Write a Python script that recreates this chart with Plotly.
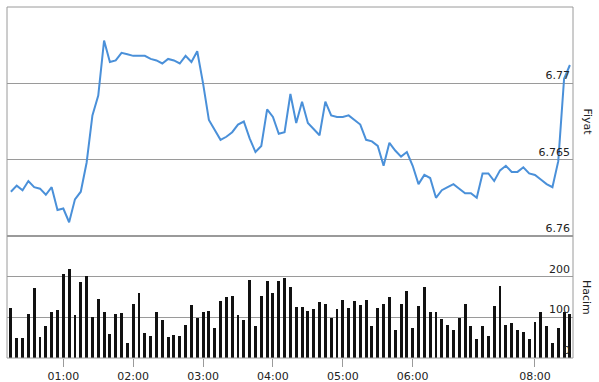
import plotly.graph_objects as go

TIMES = ("00:15 00:20 00:25 00:30 00:35 00:40 00:45 00:50 00:55 "
         "01:00 01:05 01:10 01:15 01:20 01:25 01:30 01:35 01:40 01:45 01:50 01:55 "
         "02:00 02:05 02:10 02:15 02:20 02:25 02:30 02:35 02:40 02:45 02:50 02:55 "
         "03:00 03:05 03:10 03:15 03:20 03:25 03:30 03:35 03:40 03:45 03:50 03:55 "
         "04:00 04:05 04:10 04:15 04:20 04:25 04:30 04:35 04:40 04:45 04:50 04:55 "
         "05:00 05:05 05:10 05:15 05:20 05:25 05:30 05:35 05:40 05:45 05:50 05:55 "
         "06:00 06:05 06:10 06:15 06:20 06:25 06:30 06:35 06:40 06:45 06:50 06:55 "
         "07:15 07:20 07:25 07:30 07:35 07:40 07:45 07:50 07:55 "
         "08:00 08:05 08:10 08:15 08:20 08:25 08:30").split()

PRICE = [6.7629, 6.7633, 6.7630, 6.7636, 6.7632, 6.7631, 6.7627, 6.7632, 6.7617, 6.7618,
         6.7609, 6.7624, 6.7629, 6.7648, 6.7679, 6.7692, 6.7728, 6.7714, 6.7715, 6.7720,
         6.7719, 6.7718, 6.7718, 6.7718, 6.7716, 6.7715, 6.7713, 6.7716, 6.7715, 6.7713,
         6.7718, 6.7714, 6.7721, 6.7700, 6.7676, 6.7669, 6.7663, 6.7665, 6.7668, 6.7673,
         6.7675, 6.7664, 6.7655, 6.7659, 6.7683, 6.7678, 6.7667, 6.7668, 6.7693, 6.7674,
         6.7688, 6.7674, 6.7670, 6.7666, 6.7688, 6.7679, 6.7678, 6.7678, 6.7679, 6.7676,
         6.7673, 6.7663, 6.7662, 6.7659, 6.7646, 6.7661, 6.7656, 6.7652, 6.7655, 6.7646,
         6.7634, 6.7640, 6.7638, 6.7625, 6.7630, 6.7632, 6.7634, 6.7631, 6.7628, 6.7628,
         6.7625, 6.7641, 6.7641, 6.7636, 6.7643, 6.7646, 6.7642, 6.7642, 6.7645, 6.7641,
         6.7640, 6.7637, 6.7634, 6.7632, 6.7649, 6.7703, 6.7712]

VOLUME = [122, 48, 48, 107, 171, 51, 78, 112, 117, 206,
          218, 105, 186, 201, 100, 144, 112, 58, 107, 110,
          36, 134, 161, 61, 53, 112, 93, 51, 56, 53,
          80, 130, 98, 112, 116, 75, 139, 149, 153, 105,
          93, 191, 78, 152, 189, 159, 189, 196, 174, 125,
          125, 115, 120, 137, 132, 98, 120, 142, 122, 139,
          130, 142, 78, 122, 134, 149, 70, 132, 164, 75,
          127, 174, 112, 112, 95, 80, 68, 98, 134, 78,
          46, 78, 53, 127, 176, 80, 85, 68, 63, 46,
          88, 112, 78, 38, 75, 113, 107]

XTICKS = ["01:00", "02:00", "03:00", "04:00", "05:00", "06:00", "08:00"]
PRICE_TICKS = [6.76, 6.765, 6.77]
PRICE_TICKTEXT = ["6.76", "6.765", "6.77"]
VOL_TICKS = [0, 100, 200]

FONT = dict(family="DejaVu Sans", size=11, color="#222222")
GRID = "#9a9a9a"
SPLIT = 122 / 351

fig = go.Figure()
fig.add_trace(go.Scatter(x=TIMES, y=PRICE, mode="lines",
                         line=dict(color="#4a90d9", width=2),
                         xaxis="x2", yaxis="y2", hoverinfo="skip"))
fig.add_trace(go.Bar(x=TIMES, y=VOLUME, width=0.5,
                     marker=dict(color="#111111", line=dict(width=0)),
                     xaxis="x", yaxis="y", hoverinfo="skip"))

fig.update_layout(
    width=599, height=382,
    margin=dict(l=7, r=26, t=7, b=24, autoexpand=False),
    paper_bgcolor="white", plot_bgcolor="white",
    showlegend=False,
    bargap=0,
    xaxis=dict(type="category", categoryorder="array", categoryarray=TIMES,
               range=[-0.67, 96.53], domain=[0, 1], anchor="y", automargin=False,
               tickmode="array", tickvals=XTICKS, ticktext=XTICKS,
               ticks="outside", ticklen=8, tickcolor=GRID, tickwidth=1,
               showgrid=False, zeroline=False, showline=False,
               tickfont=FONT),
    xaxis2=dict(type="category", matches="x", anchor="y2", domain=[0, 1],
                automargin=False,
                showticklabels=False, showgrid=False, zeroline=False,
                showline=False, ticks=""),
    yaxis=dict(domain=[0, SPLIT], range=[0, 300], side="right", anchor="x",
               automargin=False,
               tickmode="array", tickvals=VOL_TICKS,
               ticklabelposition="inside top", ticks="",
               showgrid=True, gridcolor=GRID, gridwidth=1,
               zeroline=False, showline=False, tickfont=FONT),
    yaxis2=dict(domain=[SPLIT, 1], range=[6.76, 6.775], side="right", anchor="x2",
                automargin=False,
                tickmode="array", tickvals=PRICE_TICKS, ticktext=PRICE_TICKTEXT,
                ticklabelposition="inside top", ticks="",
                showgrid=True, gridcolor=GRID, gridwidth=1,
                zeroline=False, showline=False, tickfont=FONT),
    shapes=[
        dict(type="rect", xref="paper", yref="paper", x0=0, x1=1, y0=0, y1=1,
             line=dict(color=GRID, width=1), layer="above"),
        dict(type="line", xref="paper", yref="paper", x0=0, x1=1, y0=SPLIT, y1=SPLIT,
             line=dict(color=GRID, width=2), layer="above"),
    ],
    annotations=[
        dict(text="Fiyat", xref="paper", yref="paper", x=1 + 14 / 566,
             y=(1 + SPLIT) / 2, showarrow=False, textangle=90,
             xanchor="center", yanchor="middle", font=FONT),
        dict(text="Hacim", xref="paper", yref="paper", x=1 + 14 / 566,
             y=SPLIT / 2, showarrow=False, textangle=90,
             xanchor="center", yanchor="middle", font=FONT),
    ],
)

fig.write_html("out.html")
